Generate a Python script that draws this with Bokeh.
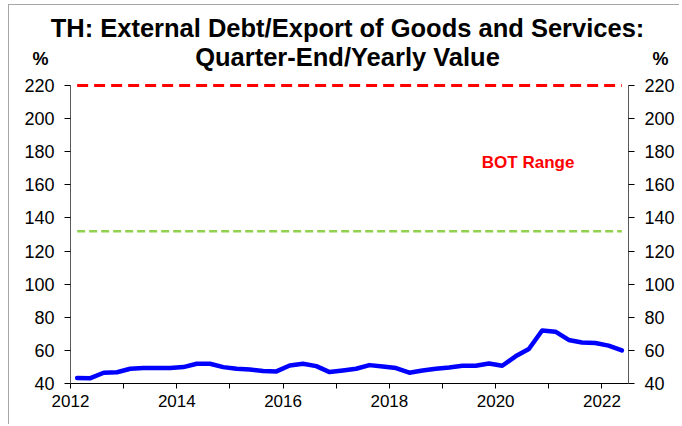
from bokeh.plotting import figure
from bokeh.models import LinearAxis, FixedTicker, Label, Range1d
from bokeh.layouts import column
from bokeh.core.properties import value
from bokeh.embed import file_html
from bokeh.resources import INLINE

# Quarter labels (Q1 2012 .. Q2 2022)
quarters = [f"{y}Q{q}" for y in range(2012, 2023) for q in range(1, 5)][:42]

# External debt / exports of goods and services (%)
ratio = [43.3, 43.2, 46.5, 46.8, 48.9, 49.3, 49.3, 49.3, 49.9, 51.9,
         51.9, 49.9, 48.9, 48.4, 47.5, 47.3, 50.9, 51.9, 50.5, 46.9,
         47.9, 48.9, 51.1, 50.3, 49.3, 46.5, 47.9, 48.9, 49.7, 50.7,
         50.7, 52.1, 50.7, 56.4, 60.8, 72.0, 71.3, 66.3, 64.8, 64.5,
         62.9, 60.0]

bot_range = [132, 220]   # lower (green) and upper (red) bounds
year_ticks = list(range(2012, 2023))
y_ticks = list(range(40, 221, 20))

title_lines = ["TH: External Debt/Export of Goods and Services:",
               "Quarter-End/Yearly Value"]

def qx(label):
    y = int(label[:4]); q = int(label[-1])
    return y + (q - 1) * 0.25 + 0.125

xs = [qx(s) for s in quarters]

FONT = "Liberation Sans"
W = 670
HH = 69      # header height
HM = 350     # main plot height

# ---- header with title and % signs ----
head = figure(width=W, height=HH, output_backend="svg", toolbar_location=None,
              title=None, x_range=Range1d(0, W), y_range=Range1d(HH, 0),
              min_border=0, x_axis_type=None, y_axis_type=None)
head.outline_line_color = None
head.xgrid.visible = False
head.ygrid.visible = False
head.text(x=[338, 338], y=[22.9, 51.2], text=title_lines,
          text_font=value(FONT), text_font_size="25.5px", text_font_style="bold",
          text_align="center", text_baseline="middle", text_color="#000000")
head.text(x=[31, 651], y=[53.8, 53.8], text=["%", "%"],
          text_font=value(FONT), text_font_size="18px", text_font_style="bold",
          text_align="center", text_baseline="middle", text_color="#000000")

# ---- main plot ----
p = figure(width=W, height=HM, output_backend="svg", toolbar_location=None,
           x_range=Range1d(2012, 2022.5), y_range=Range1d(40, 223),
           min_border_left=61, min_border_top=6,
           min_border_right=W - 619, min_border_bottom=HM - 309)
p.outline_line_color = None
p.xgrid.visible = False
p.ygrid.visible = False
p.background_fill_color = "white"
p.border_fill_color = "white"

for f in (head, p):
    if "frame_align" in f.properties():
        f.frame_align = False

def style_y(ax):
    ax.ticker = FixedTicker(ticks=y_ticks)
    ax.bounds = (40, 220)
    ax.minor_tick_line_color = None
    ax.major_tick_out = 6
    ax.major_tick_in = 0
    ax.axis_line_color = "#595959"
    ax.major_tick_line_color = "#000000"
    ax.major_label_text_font = FONT
    ax.major_label_text_font_size = "18px"
    ax.major_label_text_color = "#000000"
    ax.major_label_standoff = 10

style_y(p.yaxis[0])
ry = LinearAxis()
style_y(ry)
p.add_layout(ry, "right")

xa = p.xaxis[0]
xa.ticker = FixedTicker(ticks=year_ticks)
xa.major_label_overrides = {y: ("" if y % 2 else str(y)) for y in year_ticks}
xa.minor_tick_line_color = None
xa.major_tick_out = 5
xa.major_tick_in = 0
xa.axis_line_color = "#000000"
xa.major_tick_line_color = "#000000"
xa.major_label_text_font = FONT
xa.major_label_text_font_size = "17px"
xa.major_label_text_color = "#000000"
xa.major_label_standoff = 6

# BOT range lines
p.line([xs[0], xs[-1]], [bot_range[1]] * 2, line_color="#FF0000", line_width=3, line_dash="11 6")
p.line([xs[0], xs[-1]], [bot_range[0]] * 2, line_color="#92D050", line_width=2.5, line_dash="8 4")

p.line(xs, ratio, line_color="#0000FF", line_width=4.5, line_cap="round", line_join="round")

p.add_layout(Label(x=2019.74, y=173.4, text="BOT Range", text_font=FONT,
                   text_font_size="17px", text_font_style="bold",
                   text_color="#FF0000", text_baseline="middle"))

layout = column(head, p, spacing=0)
layout.styles = {"margin-left": "8px", "margin-top": "4px",
                 "border-left": "1px solid #a6a6a6", "border-top": "1px solid #a6a6a6"}
open("out.html", "w").write(file_html(layout, INLINE))
